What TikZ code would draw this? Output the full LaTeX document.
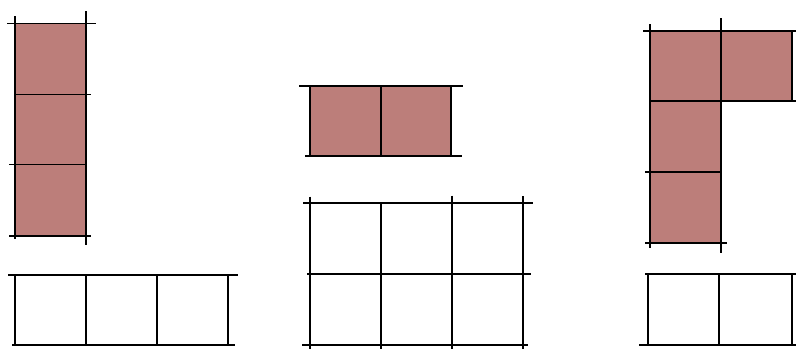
\documentclass[tikz,border=0pt]{standalone}
\definecolor{brick}{RGB}{188,126,122}
\tikzset{gridline/.style={line width=1.8pt,black},
  tile/.style={fill=brick}}
\begin{document}
\begin{tikzpicture}[x=1pt,y=-1pt]
\useasboundingbox (0,0) rectangle (796,349);
% ---- left figure, top: vertical 1x3 ----
\fill[tile] (15,23) rectangle (86,236);
\draw[gridline] (15,16) -- (15,239);
\draw[gridline] (86,11) -- (86,245);
\draw[gridline] (7,23.5) -- (96,23.5);
\draw[gridline] (15,94.5) -- (91,94.5);
\draw[gridline] (9,164.5) -- (85,164.5);
\draw[gridline] (9,236) -- (91,236);
% ---- left figure, bottom: 3x1 ----
\draw[gridline] (8,275) -- (238,275);
\draw[gridline] (12,345) -- (235,345);
\foreach \x in {15,86,157,228} \draw[gridline] (\x,275) -- (\x,345);
% ---- middle figure, top: 2x1 ----
\fill[tile] (310,86) rectangle (451,156);
\draw[gridline] (299,85.7) -- (463,85.7);
\draw[gridline] (305,156) -- (462,156);
\foreach \x in {310,380.7,451.3} \draw[gridline] (\x,85.7) -- (\x,156);
% ---- middle figure, bottom: 3x2 grid ----
\draw[gridline] (303,203.3) -- (533,203.3);
\draw[gridline] (307,274.3) -- (531,274.3);
\draw[gridline] (302,345.3) -- (528,345.3);
\draw[gridline] (310,196.7) -- (310,349);
\draw[gridline] (381,203.3) -- (381,349);
\draw[gridline] (452.3,195.7) -- (452.3,349);
\draw[gridline] (522.7,196) -- (522.7,349);
% ---- right figure, top: L shape ----
\fill[tile] (650,31) -- (792,31) -- (792,101) -- (721,101) -- (721,243) -- (650,243) -- cycle;
\draw[gridline] (650,24) -- (650,248);
\draw[gridline] (720.7,18) -- (720.7,253);
\draw[gridline] (792,31) -- (792,101);
\draw[gridline] (643,31) -- (796,31);
\draw[gridline] (650,101.3) -- (796,101.3);
\draw[gridline] (645,172.3) -- (720.7,172.3);
\draw[gridline] (645,243.3) -- (726.7,243.3);
% ---- right figure, bottom ----
\draw[gridline] (645,274.3) -- (796,274.3);
\draw[gridline] (639,345) -- (796,345);
\foreach \x in {647.7,719.3,792.3} \draw[gridline] (\x,274.3) -- (\x,345);
\end{tikzpicture}
\end{document}
